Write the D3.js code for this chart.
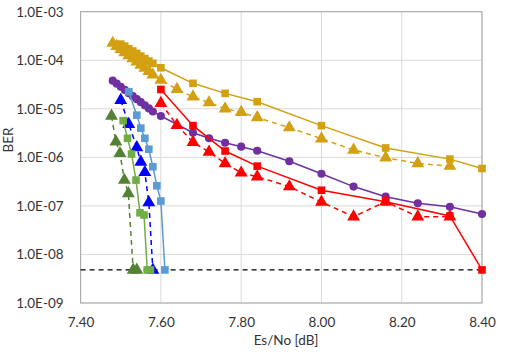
<!DOCTYPE html>
<html><head><meta charset="utf-8">
<script src="https://cdn.jsdelivr.net/npm/d3@7"></script>
<style>html,body{margin:0;padding:0;background:#fff;}svg{display:block;font-family:Lato,"Open Sans",sans-serif;}</style>
</head><body><svg id="c" width="505" height="357"></svg>
<script>
// ---- data ----
const xTicks = [7.40, 7.60, 7.80, 8.00, 8.20, 8.40];
const yTicks = [1e-3, 1e-4, 1e-5, 1e-6, 1e-7, 1e-8, 1e-9];
const floorBER = 4.8e-9;

const goldSqX = [7.50,7.51,7.52,7.53,7.54,7.55,7.56,7.57,7.58,7.60,7.68,7.76,7.84,8.00,8.16,8.32,8.40];
const goldSqY = [2.15e-4,1.95e-4,1.72e-4,1.55e-4,1.38e-4,1.22e-4,1.08e-4,9.6e-5,8.6e-5,7.0e-5,3.35e-5,2.08e-5,1.4e-5,4.5e-6,1.56e-6,9.2e-7,5.9e-7];

const goldTriX = [7.48,7.49,7.50,7.51,7.52,7.53,7.54,7.55,7.56,7.57,7.58,7.60,7.64,7.68,7.72,7.76,7.80,7.84,7.92,8.00,8.08,8.16,8.24,8.32];
const goldTriY = [2.25e-4,1.95e-4,1.68e-4,1.45e-4,1.25e-4,1.08e-4,9.3e-5,8.0e-5,6.9e-5,5.9e-5,5.0e-5,3.9e-5,2.52e-5,1.77e-5,1.34e-5,1.0e-5,8.5e-6,6.6e-6,4.1e-6,2.42e-6,1.42e-6,9.8e-7,7.5e-7,6.6e-7];

const purpleX = [7.48,7.49,7.50,7.51,7.52,7.53,7.54,7.55,7.56,7.57,7.58,7.60,7.68,7.72,7.76,7.80,7.84,7.92,8.00,8.08,8.16,8.24,8.32,8.40];
const purpleY = [3.8e-5,3.3e-5,2.85e-5,2.45e-5,2.1e-5,1.82e-5,1.58e-5,1.37e-5,1.18e-5,1.02e-5,8.8e-6,7.1e-6,3.22e-6,2.47e-6,2.0e-6,1.66e-6,1.37e-6,8.3e-7,4.6e-7,2.5e-7,1.55e-7,1.13e-7,9.6e-8,6.8e-8];

const redSqX = [7.60,7.68,7.76,7.84,8.00,8.16,8.32,8.40];
const redSqY = [2.5e-5,4.5e-6,1.35e-6,6.6e-7,2.1e-7,1.22e-7,6.2e-8,4.8e-9];

const redTriX = [7.60,7.64,7.68,7.72,7.76,7.80,7.84,7.92,8.00,8.08,8.16,8.24,8.32];
const redTriY = [1.3e-5,4.6e-6,2.05e-6,1.29e-6,7.5e-7,4.8e-7,4.0e-7,2.5e-7,1.2e-7,6.0e-8,1.22e-7,6.0e-8,6.0e-8];

const blueTriX = [7.50,7.52,7.54,7.55,7.56,7.57,7.58];
const blueTriY = [1.5e-5,4.8e-6,1.6e-6,8.0e-7,4.9e-7,1.17e-7,4.8e-9];

const lblueSqX = [7.52,7.54,7.55,7.56,7.57,7.58,7.59,7.60,7.61];
const lblueSqY = [2.25e-5,7.4e-6,4.0e-6,2.47e-6,1.47e-6,6.4e-7,2.6e-7,1.26e-7,4.8e-9];

const dgreenTriX = [7.477,7.488,7.498,7.509,7.519,7.531,7.540];
const dgreenTriY = [7.1e-6,2.1e-6,1.21e-6,3.4e-7,1.8e-7,4.8e-9,4.8e-9];

const lgreenSqX = [7.506,7.517,7.527,7.538,7.548,7.558,7.566,7.574];
const lgreenSqY = [5.7e-6,2.47e-6,1.17e-6,3.4e-7,7.2e-8,6.5e-8,4.8e-9,4.8e-9];

const series = [
  {x: goldTriX, y: goldTriY, color: "#D3A012", shape: "triangle", dash: "5,4"},
  {x: goldSqX, y: goldSqY, color: "#D3A012", shape: "square", dash: null},
  {x: purpleX, y: purpleY, color: "#7030A0", shape: "circle", dash: null},
  {x: redTriX, y: redTriY, color: "#FF0000", shape: "triangle", dash: "5,4"},
  {x: redSqX, y: redSqY, color: "#FF0000", shape: "square", dash: null},
  {x: lblueSqX, y: lblueSqY, color: "#5B9BD5", shape: "square", dash: null},
  {x: blueTriX, y: blueTriY, color: "#0000FF", shape: "triangle", dash: "5,4"},
  {x: lgreenSqX, y: lgreenSqY, color: "#70AD47", shape: "square", dash: null},
  {x: dgreenTriX, y: dgreenTriY, color: "#548235", shape: "triangle", dash: "5,4"}
];

// ---- layout ----
const svg = d3.select("#c");
const L = 80.6, R = 482, T = 11.7, B = 303;
const x = d3.scaleLinear().domain([7.40, 8.40]).range([L, R]);
const y = d3.scaleLog().domain([1e-9, 1e-3]).range([B, T]);

svg.append("g").selectAll("line").data(yTicks).join("line")
  .attr("x1", L).attr("x2", R).attr("y1", d => y(d)).attr("y2", d => y(d))
  .attr("stroke", "#D9D9D9").attr("stroke-width", 1);
svg.append("g").selectAll("line").data(xTicks).join("line")
  .attr("y1", T).attr("y2", B).attr("x1", d => x(d)).attr("x2", d => x(d))
  .attr("stroke", "#D9D9D9").attr("stroke-width", 1);
svg.append("rect").attr("x", L).attr("y", T).attr("width", R - L).attr("height", B - T)
  .attr("fill", "none").attr("stroke", "#A6A6A6").attr("stroke-width", 1);

const fmt = d => { const e = Math.round(Math.log10(d)); return "1.0E" + (e < 0 ? "-" : "+") + String(Math.abs(e)).padStart(2, "0"); };
const yAxis = svg.append("g").attr("transform", `translate(${L},0)`)
  .call(d3.axisLeft(y).tickValues(yTicks).tickFormat(fmt).tickSize(0).tickPadding(17));
const xAxis = svg.append("g").attr("transform", `translate(0,${B})`)
  .call(d3.axisBottom(x).tickValues(xTicks).tickFormat(d3.format(".2f")).tickSize(0).tickPadding(14));
[yAxis, xAxis].forEach(a => {
  a.select(".domain").remove();
  a.selectAll("text").attr("font-family", "Lato, 'Open Sans', sans-serif").attr("font-size", 13.5).attr("fill", "#333");
});

svg.append("text").attr("x", 286).attr("y", 345).attr("text-anchor", "middle")
  .attr("font-size", 13.5).attr("fill", "#333").text("Es/No [dB]");
svg.append("text").attr("transform", "translate(13,140) rotate(-90)").attr("text-anchor", "middle")
  .attr("font-size", 13.5).attr("fill", "#333").text("BER");

svg.append("line").attr("x1", x(7.40)).attr("x2", x(8.40)).attr("y1", y(floorBER)).attr("y2", y(floorBER))
  .attr("stroke", "#000").attr("stroke-width", 1.3).attr("stroke-dasharray", "5,4");

const line = d3.line().x(d => x(d[0])).y(d => y(d[1]));
const sym = {square: d3.symbolSquare, triangle: d3.symbolTriangle, circle: d3.symbolCircle};
const size = {square: 58, triangle: 72, circle: 52};
series.forEach(s => {
  const pts = s.x.map((v, i) => [v, s.y[i]]);
  const g = svg.append("g");
  g.append("path").datum(pts).attr("d", line).attr("fill", "none")
    .attr("stroke", s.color).attr("stroke-width", 1.5)
    .attr("stroke-dasharray", s.dash);
  g.selectAll("path.m").data(pts).join("path").attr("class", "m")
    .attr("transform", d => `translate(${x(d[0])},${y(d[1])})`)
    .attr("d", d3.symbol().type(sym[s.shape]).size(size[s.shape]))
    .attr("fill", s.color);
});
</script></body></html>
